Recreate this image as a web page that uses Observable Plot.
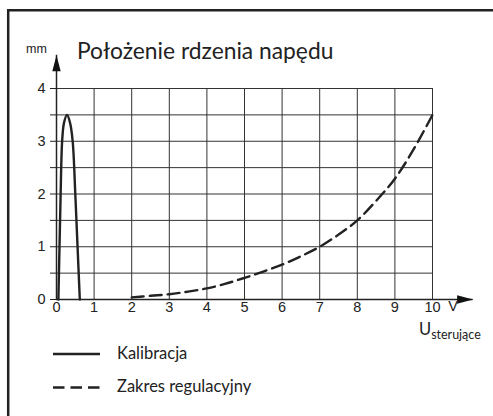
<!DOCTYPE html>
<html><head><meta charset="utf-8">
<script src="https://cdn.jsdelivr.net/npm/d3@7"></script>
<script src="https://cdn.jsdelivr.net/npm/@observablehq/plot@0.6"></script>
<style>body{margin:0;background:#fff}</style>
</head><body><div id="chart"></div>
<script>
// ---- data ----
const xTicks = [0, 1, 2, 3, 4, 5, 6, 7, 8, 9, 10];
const yTicks = [0, 0.5, 1, 1.5, 2, 2.5, 3, 3.5, 4];
const calX = [0.05, 0.08, 0.11, 0.15, 0.2, 0.28, 0.36, 0.43, 0.5, 0.56, 0.62];
const calY = [0, 1, 2, 3, 3.35, 3.5, 3.35, 3, 2, 1, 0];
const regX = [2, 2.5, 3, 3.5, 4, 4.5, 5, 5.5, 6, 6.5, 7, 7.5, 8, 8.5, 9, 9.5, 10];
const regY = [0.04, 0.07, 0.1, 0.15, 0.21, 0.3, 0.41, 0.53, 0.66, 0.82, 1.0, 1.23, 1.5, 1.87, 2.29, 2.85, 3.5];
const seriesNames = ["Kalibracja", "Zakres regulacyjny"];
const titleText = "Położenie rdzenia napędu";
const yUnit = "mm";
const xUnit = "V";
const xName = "U";
const xSub = "sterujące";
const xAxisEnd = 11.08;
const yAxisEnd = 4.63;

const cal = calX.map((x, i) => ({x, y: calY[i]}));
const reg = regX.map((x, i) => ({x, y: regY[i]}));
const dash = "12,6";

const arrowHead = {draw(ctx) { ctx.moveTo(0, 0); ctx.lineTo(4.2, 16); ctx.lineTo(-4.2, 16); ctx.closePath(); }};

const plot = Plot.plot({
  width: 493, height: 416,
  marginLeft: 56, marginRight: 61, marginTop: 88, marginBottom: 117,
  x: {domain: [0, 10], label: null},
  y: {domain: [0, 4], label: null},
  style: {fontFamily: "'Liberation Sans', Arial, sans-serif", fontSize: "14px", background: "#fff", color: "#222"},
  marks: [
    Plot.ruleX(xTicks.slice(1), {y1: 0, y2: 4, stroke: "#333", strokeWidth: 1}),
    Plot.ruleY(yTicks.slice(1), {x1: 0, x2: 10, stroke: "#333", strokeWidth: 1}),
    Plot.ruleX([0], {y1: 0, y2: yAxisEnd, stroke: "#222", strokeWidth: 1.5}),
    Plot.ruleY([0], {x1: 0, x2: xAxisEnd, stroke: "#222", strokeWidth: 1.5}),
    Plot.dot([{x: 0, y: yAxisEnd}], {x: "x", y: "y", symbol: arrowHead, fill: "#111", r: 5}),
    Plot.dot([{x: xAxisEnd, y: 0}], {x: "x", y: "y", symbol: arrowHead, fill: "#111", r: 5, rotate: 90}),
    Plot.axisY(yTicks, {tickSize: 6, tickPadding: 5, tickFormat: d => Number.isInteger(d) ? d : "", fontSize: 14.5}),
    Plot.axisX(xTicks, {tickSize: 0, tickPadding: 2, fontSize: 14.5}),
    Plot.line(cal, {x: "x", y: "y", curve: "catmull-rom", stroke: "#222", strokeWidth: 2.4}),
    Plot.line(reg, {x: "x", y: "y", curve: "catmull-rom", stroke: "#222", strokeWidth: 2.4, strokeDasharray: dash})
  ]
});
document.getElementById("chart").appendChild(plot);

const svg = d3.select(plot);
const xs = plot.scale("x");
const g = svg.append("g").attr("text-anchor", "start").attr("fill", "#222");
// frame
g.append("path").attr("d", "M8.2,416 V10.2 H493").attr("fill", "none").attr("stroke", "#222").attr("stroke-width", 2.5);
// title
g.append("text").attr("x", 77).attr("y", 59).attr("font-family", "Lato, sans-serif").attr("font-size", 22.8).text(titleText);
g.append("text").attr("x", 26).attr("y", 53).attr("font-family", "'Liberation Sans', Arial, sans-serif").attr("font-size", 12.5).text(yUnit);
g.append("text").attr("x", xs.apply(10) + 21).attr("y", 310.5).attr("text-anchor", "middle").attr("font-family", "'Liberation Sans', Arial, sans-serif").attr("font-size", 14.5).text(xUnit);
const u = g.append("text").attr("x", 419).attr("y", 335).attr("font-family", "Lato, sans-serif").attr("font-size", 16.5);
u.append("tspan").text(xName);
u.append("tspan").attr("font-size", 12.5).attr("dy", 3.5).text(xSub);
// legend
seriesNames.forEach((name, i) => {
  const y = 354 + i * 33.5;
  g.append("line").attr("x1", 53).attr("x2", 100).attr("y1", y).attr("y2", y).attr("stroke", "#222").attr("stroke-width", 2.4).attr("stroke-dasharray", i ? "11.5,6" : null);
  g.append("text").attr("x", 117).attr("y", y + 4.5).attr("font-family", "Lato, sans-serif").attr("font-size", 16.5).text(name);
});
</script>
</body></html>
